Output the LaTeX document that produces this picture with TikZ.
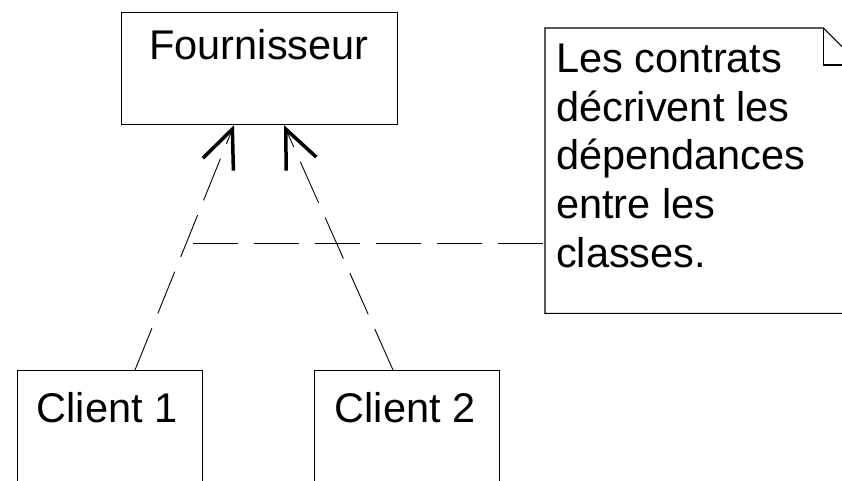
\documentclass[tikz,border=0pt]{standalone}
\usepackage{fontspec}
\setmainfont{Liberation Sans}
\usetikzlibrary{arrows.meta,calc}
\begin{document}
\begin{tikzpicture}[x=1pt,y=-1pt,
  classbox/.style={draw, line width=1.1pt, inner sep=0pt, anchor=north west},
  txt/.style={font=\fontsize{41.5}{48.75}\selectfont, inner sep=0pt},
  depline/.style={line width=0.9pt, dash pattern=on 45pt off 16pt},
  realize/.style={depline, -{Straight Barb[length=38pt,width=33pt,line width=3.5pt]}},
  notebox/.style={draw, line width=1.1pt, line join=miter}]
\useasboundingbox (0,0) rectangle (842,481);
\clip (0,0) rectangle (842,481);

% classes
\node[classbox, minimum width=276pt, minimum height=112pt] (fourn) at (121,12) {};
\node[txt, anchor=base] (fournlbl) at (259,60) {Fournisseur};
\node[classbox, minimum width=185pt, minimum height=140pt] (client1) at (17,370) {};
\node[txt, anchor=base] (client1lbl) at (107,422) {Client 1};
\node[classbox, minimum width=185pt, minimum height=140pt] (client2) at (314,370) {};
\node[txt, anchor=base] (client2lbl) at (405,422) {Client 2};

% dependencies towards the supplier
\draw[realize] ($(client1.north west)+(118,0)$) -- ($(fourn.south west)+(113,0)$);
\draw[realize] ($(client2.north west)+(79,0)$) -- ($(fourn.south west)+(163,0)$);

% comment note with folded corner
\node[inner sep=0pt, minimum width=315pt, minimum height=285pt, anchor=north west] (note) at (545,28) {};
\draw[notebox] (note.north west) -- ($(note.north east)+(-37,0)$) -- ($(note.north east)+(0,37)$)
  -- (note.south east) -- (note.south west) -- cycle;
\draw[notebox] ($(note.north east)+(-37,0)$) -- ($(note.north east)+(-37,37)$) -- ($(note.north east)+(0,37)$);
\node[txt, align=left, anchor=north west] (notetext) at (556,43.5)
  {Les contrats\\décrivent les\\dépendances\\entre les\\classes.};

% anchor line of the note
\coordinate (hstart) at (193,243);
\draw[depline] (hstart) -- (hstart -| note.west);
\end{tikzpicture}
\end{document}
